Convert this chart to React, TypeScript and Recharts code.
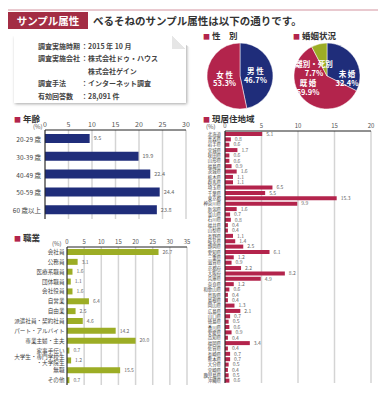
import React from "react";
import {
  BarChart,
  Bar,
  XAxis,
  YAxis,
  CartesianGrid,
  LabelList,
  PieChart,
  Pie,
  Cell,
} from "recharts";

const GENDER_NAMES = ["男 性", "女 性"];
const GENDER_VALUES = [46.7, 53.3];

const MARITAL_NAMES = ["未 婚", "既 婚", "離別・死別"];
const MARITAL_VALUES = [32.4, 59.9, 7.7];

const AGE_LABELS = ["20-29 歳", "30-39 歳", "40-49 歳", "50-59 歳", "60 歳以上"];
const AGE_VALUES = [9.5, 19.9, 22.4, 24.4, 23.8];
const AGE_TICKS = [0, 5, 10, 15, 20, 25, 30];

const JOB_LABELS = [
  "会社員",
  "公務員",
  "医療系職員",
  "団体職員",
  "会社役員",
  "自営業",
  "自由業",
  "派遣社員・契約社員",
  "パート・アルバイト",
  "専業主婦・主夫",
  "家事手伝い",
  "大学生・専門学校生\n・大学院生",
  "無職",
  "その他",
];
const JOB_VALUES = [26.7, 3.1, 1.6, 1.1, 1.6, 6.4, 2.5, 4.6, 14.2, 20.0, 0.7, 1.2, 15.5, 0.7];
const JOB_TICKS = [0, 5, 10, 15, 20, 25, 30, 35];

const PREF_LABELS = [
  "北海道", "青森県", "岩手県", "宮城県", "秋田県", "山形県", "福島県", "茨城県",
  "栃木県", "群馬県", "埼玉県", "千葉県", "東京都", "神奈川県", "新潟県", "富山県",
  "石川県", "福井県", "山梨県", "長野県", "岐阜県", "静岡県", "愛知県", "三重県",
  "滋賀県", "京都府", "大阪府", "兵庫県", "奈良県", "和歌山県", "鳥取県", "島根県",
  "岡山県", "広島県", "山口県", "徳島県", "香川県", "愛媛県", "高知県", "福岡県",
  "佐賀県", "長崎県", "熊本県", "大分県", "宮崎県", "鹿児島県", "沖縄県",
];
const PREF_VALUES = [
  5.1, 0.8, 0.6, 1.7, 0.6, 0.6, 0.9, 1.6,
  1.1, 1.1, 6.5, 5.5, 15.3, 9.9, 1.6, 0.7,
  0.8, 0.4, 0.4, 1.1, 1.4, 2.5, 6.1, 1.2,
  0.9, 2.2, 8.2, 4.9, 1.2, 0.6, 0.4, 0.4,
  1.3, 2.1, 0.7, 0.5, 0.6, 0.9, 0.4, 3.4,
  0.4, 0.7, 0.7, 0.5, 0.4, 0.5, 0.6,
];
const PREF_TICKS = [0, 5, 10, 15, 20];

const NAVY = "#1f2d7a";
const CRIMSON = "#b3244c";
const GREEN = "#9cad25";
const FONT = '"Noto Sans CJK JP", "Noto Sans", sans-serif';
const RADIAN = Math.PI / 180;

// label offsets from the pie centre (the reference places them by hand)
const MARITAL_LABEL_OFFSET = [
  [20, 1],
  [-19, 10],
  [-13, -9],
];

const genderData = GENDER_NAMES.map((name, i) => ({ name, value: GENDER_VALUES[i] }));
const maritalData = MARITAL_NAMES.map((name, i) => ({ name, value: MARITAL_VALUES[i] }));
const ageData = AGE_LABELS.map((name, i) => ({ name, value: AGE_VALUES[i] }));
const jobData = JOB_LABELS.map((name, i) => ({ name, value: JOB_VALUES[i] }));
const prefData = PREF_LABELS.map((name, i) => ({ name, value: PREF_VALUES[i] }));

const makeCatTick = (fs: number, gap: number) => (props: any) => {
  const { x, y, payload } = props;
  const lines = String(payload.value).split("\n");
  const lh = fs + 0.5;
  const start = y - ((lines.length - 1) * lh) / 2;
  return (
    <text x={x - gap} y={start} textAnchor="end" dominantBaseline="central" fontSize={fs} fill="#444" fontFamily={FONT}>
      {lines.map((l, i) => (
        <tspan key={i} x={x - gap} dy={i === 0 ? 0 : lh}>
          {l}
        </tspan>
      ))}
    </text>
  );
};

const labelText = (x: number, y: number, name: string, value: number) => (
  <text x={x} y={y} textAnchor="middle" fill="#fff" fontSize={7.5} fontWeight="bold" fontFamily={FONT}>
    <tspan x={x} dy={0}>{name}</tspan>
    <tspan x={x} dy={8.5}>{value.toFixed(1)}%</tspan>
  </text>
);

const genderLabel = (props: any) => {
  const { cx, cy, midAngle, outerRadius, name, value } = props;
  const r = outerRadius * 0.47;
  const x = cx + r * Math.cos(-midAngle * RADIAN);
  const y = cy + r * Math.sin(-midAngle * RADIAN);
  return labelText(x, y, name, value);
};

const maritalLabel = (props: any) => {
  const { cx, cy, index, name, value } = props;
  const [dx, dy] = MARITAL_LABEL_OFFSET[index];
  return labelText(cx + dx, cy + dy, name, value);
};

const SectionTitle = ({ text, x, y }: { text: string; x: number; y: number }) => (
  <div style={{ position: "absolute", left: x, top: y, fontSize: 8.5, fontWeight: "bold", color: "#333", whiteSpace: "nowrap", lineHeight: "10px" }}>
    <span style={{ color: CRIMSON, fontSize: 7, marginRight: 2 }}>■</span>
    {text}
  </div>
);

const Pct = ({ x, y }: { x: number; y: number }) => (
  <div style={{ position: "absolute", left: x, top: y, fontSize: 6, color: "#555", lineHeight: "8px" }}>(%)</div>
);

type HBarProps = {
  data: any[];
  width: number;
  height: number;
  yWidth: number;
  max: number;
  ticks: number[];
  color: string;
  barSize: number;
  catFont: number;
  catGap: number;
  valFont: number;
  tickFont: number;
};

const HBar = ({ data, width, height, yWidth, max, ticks, color, barSize, catFont, catGap, valFont, tickFont }: HBarProps) => (
  <BarChart width={width} height={height} data={data} layout="vertical" margin={{ top: 2, right: 4, bottom: 3, left: 0 }}>
    <CartesianGrid horizontal={false} stroke="#d4d4d4" strokeWidth={1.5} />
    <XAxis
      type="number"
      orientation="top"
      domain={[0, max]}
      ticks={ticks}
      interval={0}
      height={16}
      tickLine={false}
      tickSize={0}
      tickMargin={3}
      axisLine={{ stroke: "#222", strokeWidth: 1 }}
      tick={{ fontSize: tickFont, fill: "#555", fontFamily: FONT }}
    />
    <XAxis xAxisId="b" type="number" orientation="bottom" domain={[0, max]} height={0} tick={false} tickLine={false} axisLine={{ stroke: "#333", strokeWidth: 2 }} />
    <YAxis
      type="category"
      dataKey="name"
      width={yWidth}
      interval={0}
      tickLine={false}
      tickSize={0}
      tickMargin={0}
      axisLine={{ stroke: "#222", strokeWidth: 1 }}
      tick={makeCatTick(catFont, catGap)}
    />
    <YAxis yAxisId="r" type="category" dataKey="name" orientation="right" width={0} tick={false} tickLine={false} axisLine={{ stroke: "#777", strokeWidth: 2 }} />
    <Bar dataKey="value" fill={color} barSize={barSize} isAnimationActive={false}>
      <LabelList
        dataKey="value"
        position="right"
        offset={4}
        formatter={(v: any) => Number(v).toFixed(1)}
        style={{ fontSize: valFont, fill: "#666", fontFamily: FONT }}
      />
    </Bar>
  </BarChart>
);

export default function App() {
  return (
    <div style={{ position: "relative", width: 387, height: 400, margin: "-8px 0 0 -8px", background: "#fff", fontFamily: FONT, overflow: "hidden" }}>
      {/* header */}
      <div style={{ position: "absolute", left: 8, top: 9, width: 370, height: 2, background: "#e9c9cf" }} />
      <div style={{ position: "absolute", left: 8, top: 12, width: 80, height: 17, background: "#a32d44", color: "#fff", fontSize: 10.5, fontWeight: "bold", lineHeight: "17px", textAlign: "center" }}>
        サンプル属性
      </div>
      <div style={{ position: "absolute", left: 93, top: 12, fontSize: 10.5, fontWeight: "bold", color: "#333", lineHeight: "17px", whiteSpace: "nowrap" }}>
        べるそねのサンプル属性は以下の通りです。
      </div>

      {/* info box */}
      <div style={{ position: "absolute", left: 14, top: 36, width: 172, height: 67, background: "#fff", boxShadow: "1px 1px 3px rgba(0,0,0,0.35)", clipPath: "polygon(0 0, 158px 0, 180px 14px, 180px 80px, -5px 80px, -5px 0)" }} />
      <div style={{ position: "absolute", left: 172, top: 36, width: 14, height: 13, background: "linear-gradient(225deg, #fff 50%, #e6e6e6 50%)" }} />
      <div style={{ position: "absolute", left: 38, top: 40, fontSize: 7, fontWeight: "bold", color: "#444", lineHeight: "12.4px", whiteSpace: "nowrap" }}>
        <div><span style={{ display: "inline-block", width: 43 }}>調査実施時期</span>：2015 年 10 月</div>
        <div><span style={{ display: "inline-block", width: 43 }}>調査実施会社</span>：株式会社ドゥ・ハウス</div>
        <div><span style={{ display: "inline-block", width: 50 }}></span>株式会社ゲイン</div>
        <div><span style={{ display: "inline-block", width: 43 }}>調査手法</span>：インターネット調査</div>
        <div><span style={{ display: "inline-block", width: 43 }}>有効回答数</span>：28,091 件</div>
      </div>

      {/* pies */}
      <SectionTitle text="性　別" x={203} y={30} />
      <div style={{ position: "absolute", left: 205, top: 41 }}>
        <PieChart width={70} height={70} margin={{ top: 0, right: 0, bottom: 0, left: 0 }}>
          <Pie data={genderData} dataKey="value" cx="50%" cy="50%" outerRadius={33} startAngle={90} endAngle={-270} stroke="#fff" strokeWidth={0.5} labelLine={false} label={genderLabel} isAnimationActive={false}>
            <Cell fill={NAVY} />
            <Cell fill={CRIMSON} />
          </Pie>
        </PieChart>
      </div>
      <SectionTitle text="婚姻状況" x={293} y={30} />
      <div style={{ position: "absolute", left: 292, top: 41 }}>
        <PieChart width={70} height={70} margin={{ top: 0, right: 0, bottom: 0, left: 0 }}>
          <Pie data={maritalData} dataKey="value" cx="50%" cy="50%" outerRadius={33} startAngle={90} endAngle={-270} stroke="#fff" strokeWidth={0.5} labelLine={false} label={maritalLabel} isAnimationActive={false}>
            <Cell fill={NAVY} />
            <Cell fill={CRIMSON} />
            <Cell fill={GREEN} />
          </Pie>
        </PieChart>
      </div>

      {/* age */}
      <SectionTitle text="年齢" x={14} y={113} />
      <Pct x={33} y={123} />
      <div style={{ position: "absolute", left: 0, top: 112 }}>
        <HBar data={ageData} width={190} height={110} yWidth={45} max={30} ticks={AGE_TICKS} color={NAVY} barSize={9} catFont={6.5} catGap={4} valFont={5.5} tickFont={7} />
      </div>

      {/* job */}
      <SectionTitle text="職業" x={14} y={232} />
      <Pct x={52} y={240} />
      <div style={{ position: "absolute", left: 0, top: 229 }}>
        <HBar data={jobData} width={191} height={159} yWidth={67} max={35} ticks={JOB_TICKS} color={GREEN} barSize={6} catFont={5.6} catGap={2.5} valFont={5} tickFont={6} />
      </div>

      {/* prefecture */}
      <SectionTitle text="現居住地域" x={203} y={113} />
      <Pct x={206} y={123} />
      <div style={{ position: "absolute", left: 195, top: 113 }}>
        <HBar data={prefData} width={180} height={273} yWidth={30} max={20} ticks={PREF_TICKS} color={CRIMSON} barSize={4} catFont={4.4} catGap={4} valFont={5} tickFont={6} />
      </div>
    </div>
  );
}
